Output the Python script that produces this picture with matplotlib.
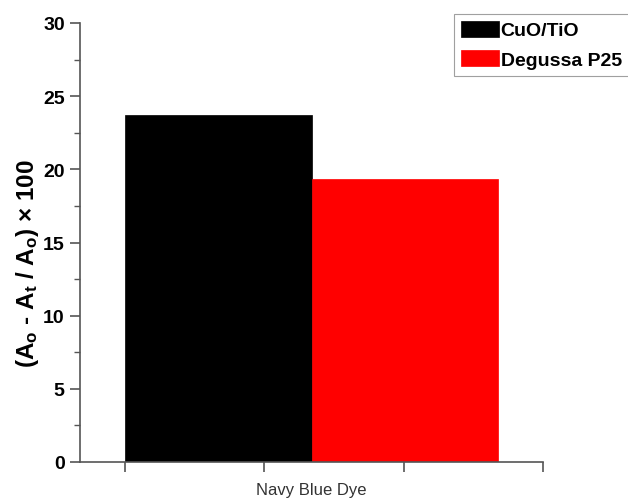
import matplotlib
matplotlib.use('Agg')
import matplotlib.pyplot as plt
from matplotlib.ticker import MultipleLocator

plt.rcParams['font.family'] = ['Liberation Sans', 'DejaVu Sans']
plt.rcParams['mathtext.fontset'] = 'custom'
plt.rcParams['mathtext.rm'] = 'Liberation Sans:bold'
plt.rcParams['mathtext.it'] = 'Liberation Sans:bold'
plt.rcParams['mathtext.bf'] = 'Liberation Sans:bold'

series = ['CuO/TiO', 'Degussa P25']
values = [23.7, 19.35]
colors = ['black', 'red']
category = 'Navy Blue Dye'

fig = plt.figure(figsize=(6.28, 5.02), dpi=100)
ax = fig.add_axes([80/628, 39/502, 463/628, 439/502])

width = 1.34
lefts = [0, width]
for name, v, c, l in zip(series, values, colors, lefts):
    ax.bar(l, v, width=width, align='edge', color=c, edgecolor=c, lw=0.5, label=name)

ax.set_xlim(-0.32, 3.0)
ax.set_ylim(0, 30)
ax.set_xticks([0, 1, 2, 3])
ax.set_xticklabels([])
ax.yaxis.set_major_locator(MultipleLocator(5))
ax.yaxis.set_minor_locator(MultipleLocator(2.5))

axcol = '#555555'
ax.spines['top'].set_visible(False)
ax.spines['right'].set_visible(False)
for s in ['left', 'bottom']:
    ax.spines[s].set_color(axcol)
    ax.spines[s].set_linewidth(1.2)
ax.tick_params(axis='both', which='major', length=7, width=1.2, color=axcol, direction='out')
ax.tick_params(axis='y', which='minor', length=4, width=1.0, color=axcol, direction='out')
ax.tick_params(axis='y', labelsize=14, pad=4)
for t in ax.get_yticklabels():
    t.set_fontweight('bold')

ax.set_xlabel(category, fontsize=12, color='#333333', va='center')
ax.xaxis.set_label_coords((width + 0.32) / 3.32, -0.062)
ax.set_ylabel(r'(A$_\mathrm{o}$ - A$_\mathrm{t}$ / A$_\mathrm{o}$) × 100',
              fontsize=17.5, fontweight='bold', va='center')
ax.yaxis.set_label_coords(-0.114, 0.453)

leg = fig.legend(loc='upper left', bbox_to_anchor=(454/628, 1 - 15/502),
                 prop={'weight': 'bold', 'size': 14}, fancybox=False,
                 handlelength=1.95, handleheight=0.87, handletextpad=0.1,
                 borderpad=0.35, labelspacing=0.55, borderaxespad=0)
leg.get_frame().set_edgecolor('#888888')
leg.get_frame().set_linewidth(0.8)

plt.savefig('out.png', dpi=100)
